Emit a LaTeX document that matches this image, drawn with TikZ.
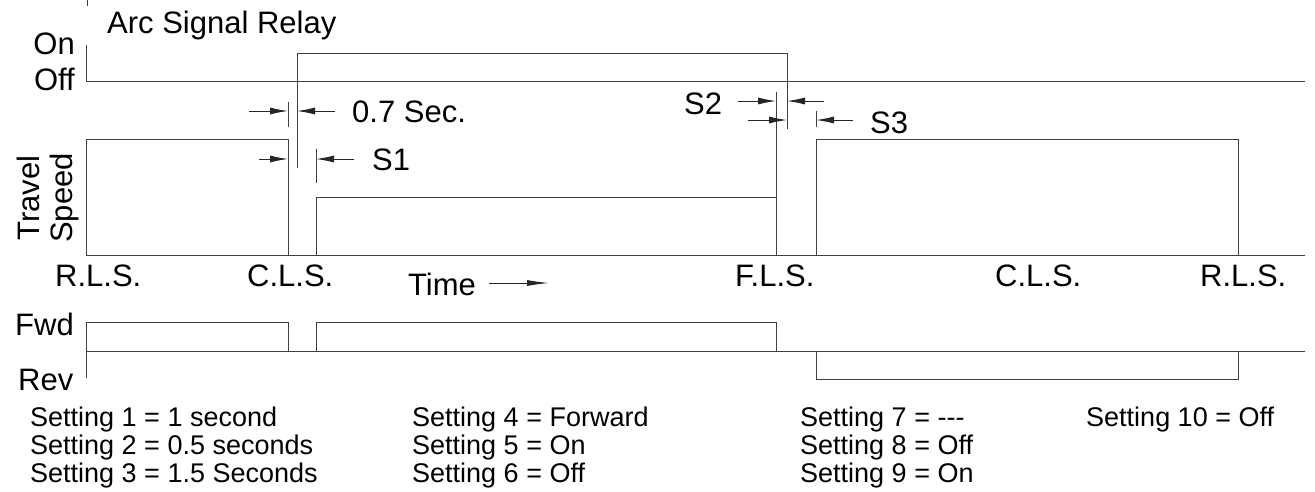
\documentclass[tikz,border=0pt]{standalone}
\usepackage{fontspec}
\setmainfont{Liberation Sans}
\usetikzlibrary{arrows.meta}
\begin{document}
\begin{tikzpicture}[x=1pt,y=-1pt,
  wave/.style={draw=black!75,line width=1pt},
  dimarrow/.style={draw=black!85,line width=1pt,-{Latex[length=18pt,width=7pt]}},
  big/.style={inner sep=0pt,font=\fontsize{31}{36}\selectfont},
  setg/.style={inner sep=0pt,anchor=base west,font=\fontsize{27}{30}\selectfont},
]
\useasboundingbox (0,0) rectangle (1315,491);
% ---------- Arc signal relay ----------
\draw[wave] (87,0) -- (87,6);
\draw[wave] (86,45) -- (86,81);
\draw[wave] (86,81) -- (1305,81);
\draw[wave] (297,168) -- (297,53) -- (787,53) -- (787,129);
\node[big,anchor=base west] (arc) at (107,33) {Arc Signal Relay};
\node[big,anchor=base east] (on) at (75,54) {On};
\node[big,anchor=base east] (off) at (75,90) {Off};
% 0.7 sec dimension
\draw[wave] (288,102) -- (288,127);
\coordinate (d1a) at (249,111); \coordinate (d1b) at (288,111);
\coordinate (d1c) at (335,111); \coordinate (d1d) at (297,111);
\draw[dimarrow] (d1a) -- (d1b);
\draw[dimarrow] (d1c) -- (d1d);
\node[big,anchor=base west] (sec) at (352,122) {0.7 Sec.};
% ---------- Travel speed ----------
\draw[wave] (86,255) -- (1305,255);
\draw[wave] (86,255) -- (86,139) -- (288,139) -- (288,255);
\draw[wave] (316,255) -- (316,197) -- (776,197) -- (776,255);
\draw[wave] (776,197) -- (776,92);
\draw[wave] (816,255) -- (816,139) -- (1238,139) -- (1238,255);
\draw[wave] (316,149) -- (316,183);
\draw[wave] (816,111) -- (816,127);
% S1
\coordinate (s1a) at (259,159); \coordinate (s1b) at (288,159);
\coordinate (s1c) at (354,159); \coordinate (s1d) at (316,159);
\draw[dimarrow] (s1a) -- (s1b);
\draw[dimarrow] (s1c) -- (s1d);
\node[big,anchor=base west] (S1) at (372,170) {S1};
% S2
\coordinate (s2a) at (738,101); \coordinate (s2b) at (776,101);
\coordinate (s2c) at (824,101); \coordinate (s2d) at (787,101);
\draw[dimarrow] (s2a) -- (s2b);
\draw[dimarrow] (s2c) -- (s2d);
\node[big,anchor=base west] (S2) at (684,114) {S2};
% S3
\coordinate (s3a) at (748,120); \coordinate (s3b) at (787,120);
\coordinate (s3c) at (853,120); \coordinate (s3d) at (816,120);
\draw[dimarrow] (s3a) -- (s3b);
\draw[dimarrow] (s3c) -- (s3d);
\node[big,anchor=base west] (S3) at (870,133) {S3};
% axis labels
\node[big,anchor=base,rotate=90] (travel) at (39,198) {Travel};
\node[big,anchor=base,rotate=90] (speed) at (72,198) {Speed};
\node[big,anchor=base west] (rls1) at (55,286) {R.L.S.};
\node[big,anchor=base west] (cls1) at (247,286) {C.L.S.};
\node[big,anchor=base west] (fls) at (735,286) {F.L.S.};
\node[big,anchor=base west] (cls2) at (995,286) {C.L.S.};
\node[big,anchor=base west] (rls2) at (1200,286) {R.L.S.};
\node[big,anchor=base west] (time) at (408,295) {Time};
\coordinate (ta) at (489,283); \coordinate (tb) at (549,283);
\draw[draw=black!85,line width=1pt,-{Latex[length=22pt,width=6pt]}] (ta) -- (tb);
% ---------- Fwd / Rev ----------
\draw[wave] (86,351) -- (1305,351);
\draw[wave] (86,378) -- (86,322) -- (288,322) -- (288,351);
\draw[wave] (316,351) -- (316,322) -- (776,322) -- (776,351);
\draw[wave] (816,351) -- (816,379) -- (1238,379) -- (1238,351);
\node[big,anchor=base west] (fwd) at (15,335) {Fwd};
\node[big,anchor=base west] (rev) at (18,390) {Rev};
% ---------- Settings ----------
\node[setg] (st1) at (30,426) {Setting 1 = 1 second};
\node[setg] (st2) at (30,454) {Setting 2 = 0.5 seconds};
\node[setg] (st3) at (30,482) {Setting 3 = 1.5 Seconds};
\node[setg] (st4) at (412,426) {Setting 4 = Forward};
\node[setg] (st5) at (412,454) {Setting 5 = On};
\node[setg] (st6) at (412,482) {Setting 6 = Off};
\node[setg] (st7) at (800,426) {Setting 7 = -{}-{}-};
\node[setg] (st8) at (800,454) {Setting 8 = Off};
\node[setg] (st9) at (800,482) {Setting 9 = On};
\node[setg] (st10) at (1086,426) {Setting 10 = Off};
\end{tikzpicture}
\end{document}
